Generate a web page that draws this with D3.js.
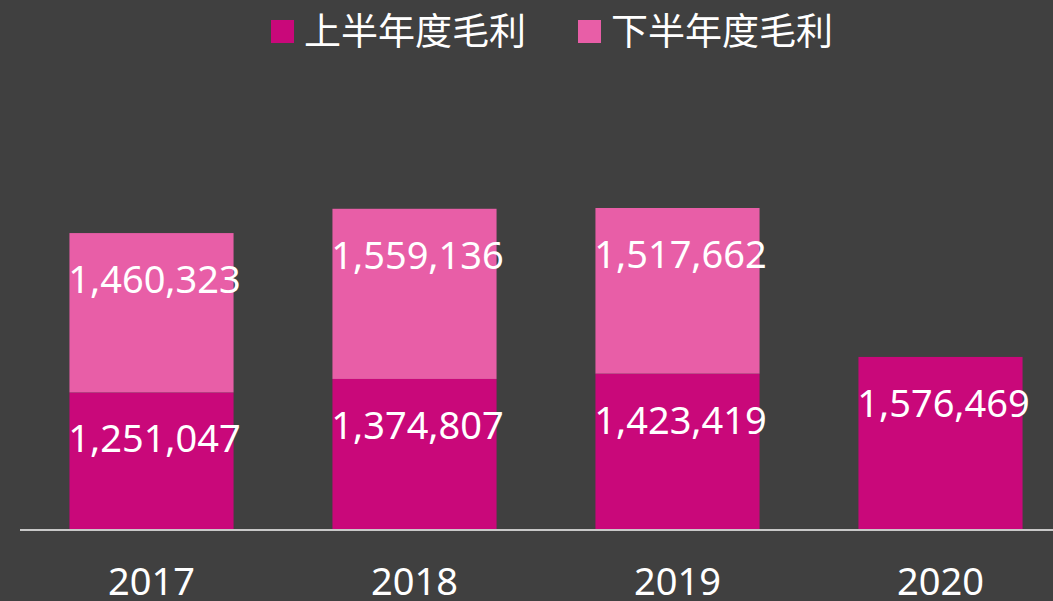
<!DOCTYPE html>
<html>
<head>
<meta charset="utf-8">
<script src="https://cdn.jsdelivr.net/npm/d3@7"></script>
<style>
  html, body { margin: 0; padding: 0; background: #404040; }
  svg { display: block; }
  text { font-family: "Noto Sans", "Noto Sans CJK TC", sans-serif; fill: #fff; }
</style>
</head>
<body>
<div id="chart"></div>
<script>
const years = ["2017", "2018", "2019", "2020"];
const firstHalf = [1251047, 1374807, 1423419, 1576469];
const secondHalf = [1460323, 1559136, 1517662, null];
const seriesNames = ["上半年度毛利", "下半年度毛利"];
const colors = ["#c9087a", "#e85ea7"];

const width = 1053;
const height = 601;
const baseY = 529;

const svg = d3
  .select("#chart")
  .append("svg")
  .attr("width", width)
  .attr("height", height);

svg.append("rect").attr("width", width).attr("height", height).attr("fill", "#404040");

const x = d3.scaleBand().domain(years).range([20, 1072]).paddingInner(0.376).paddingOuter(0.188);
const y = d3.scaleLinear().domain([0, 3500000]).range([baseY, 147]);

// stack the two halves
const rows = years.map((yr, i) => ({ year: yr, h1: firstHalf[i], h2: secondHalf[i] || 0 }));
const stacked = d3.stack().keys(["h1", "h2"])(rows);

const fmt = d3.format(",");

stacked.forEach((layer, li) => {
  const g = svg.append("g");
  const segs = layer.filter((d) => d[1] - d[0] > 0);
  g.selectAll("rect")
    .data(segs)
    .enter()
    .append("rect")
    .attr("x", (d) => x(d.data.year))
    .attr("y", (d) => y(d[1]))
    .attr("width", x.bandwidth())
    .attr("height", (d) => y(d[0]) - y(d[1]))
    .attr("fill", colors[li]);

  g.selectAll("text")
    .data(segs)
    .enter()
    .append("text")
    .attr("x", (d) => x(d.data.year) + x.bandwidth() / 2 + 3)
    .attr("y", (d) => y(d[1]) + 60)
    .attr("text-anchor", "middle")
    .attr("font-size", 38)
    .text((d) => fmt(d[1] - d[0]));
});

// axis
const axis = svg.append("g").attr("transform", `translate(0,${baseY + 1})`).call(d3.axisBottom(x).tickSize(0).tickPadding(0));
axis.select(".domain").attr("d", `M20,0H${width}`).attr("stroke", "#c8c8c8").attr("stroke-width", 2);
axis.selectAll("text")
  .attr("dy", null)
  .attr("y", 65)
  .attr("font-size", 38)
  .attr("fill", "#fff")
  .style("font-family", '"Noto Sans", sans-serif');

// legend
const legendX = [271, 578];
const legend = svg.selectAll(".legend").data(seriesNames).enter().append("g").attr("class", "legend")
  .attr("transform", (d, i) => `translate(${legendX[i]},0)`);
legend.append("rect").attr("x", 0).attr("y", 20).attr("width", 23).attr("height", 23).attr("fill", (d, i) => colors[i]);
legend.append("text")
  .attr("x", 33)
  .attr("y", 45)
  .attr("font-size", 37)
  .style("font-family", '"Noto Sans CJK TC", sans-serif')
  .text((d) => d);
</script>
</body>
</html>
